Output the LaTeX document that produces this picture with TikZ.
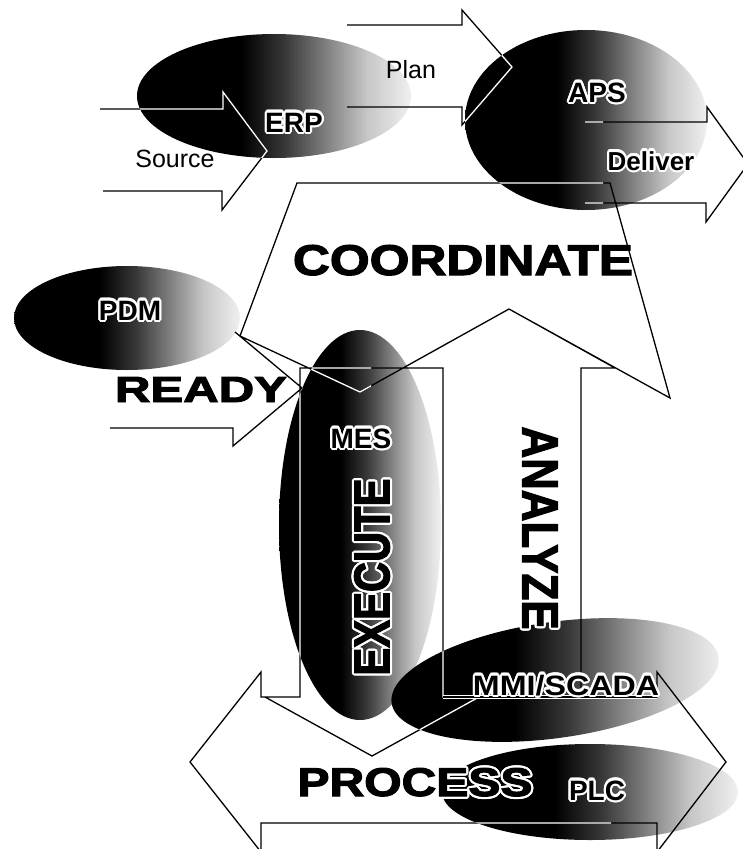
\documentclass[tikz,border=0pt]{standalone}
\usepackage{fontspec}
\usepackage{graphicx}
\setmainfont{Liberation Sans}
\newfontfamily\heavyfont[BoldFeatures={FakeBold=2.5}]{Liberation Sans}
\usetikzlibrary{calc}

% dark-to-light fill used for every oval (bounding box spans 25bp..75bp)
\pgfdeclarehorizontalshading{ovalshade}{100bp}{%
  color(0bp)=(black); color(25bp)=(black); color(44bp)=(black);
  color(52bp)=(black!78); color(60bp)=(black!48); color(67bp)=(black!22);
  color(75bp)=(black!6); color(100bp)=(black!6)}

% outlines of all block arrows
\newcommand\arrowoutlines{%
  (100,109) -- (223,109) -- (223,92) -- (267,151) -- (222,210) -- (222,191) -- (103,191)
  (347,25) -- (462,25) -- (462,10) -- (512,67) -- (462,125) -- (462,107) -- (347,107)
  (585,122) -- (707,122) -- (707,107) -- (748,164) -- (706,222) -- (706,203) -- (585,203)
  (297,183) -- (610,183) -- (670,398) -- (509,309) -- (360,392) -- (240,336) -- cycle
  (235,332) -- (302,388) -- (233,446) -- (233,428) -- (110,428)
  (300,368) -- (443,368) -- (443,697) -- (479,697) -- (372,756) -- (265,697) -- (300,697) -- cycle
  (443,368) -- (403,368) -- (509,309) -- (615,368) -- (581,368) -- (581,697)
  (300,697) -- (261,697) -- (261,672) -- (190,762) -- (261,852) -- (261,823) -- (657,823)
    -- (657,852) -- (726,762) -- (657,672) -- (657,697) -- (443,697)}

\tikzset{
  oval/.style={shading=ovalshade},
  outline/.style={line width=1.3pt, line join=miter},
  tag/.style={inner sep=0pt, anchor=base, font=\fontsize{28pt}{30pt}\selectfont\bfseries},
  plain/.style={inner sep=0pt, anchor=base, font=\fontsize{25pt}{27pt}\selectfont},
  big/.style={inner sep=0pt}
}
\newcommand\heavy[3]{\resizebox{#1}{#2}{\heavyfont\bfseries #3}}

% black label with a white outline: #1 name, #2 position, #3 node options, #4 text
\newcommand\halolabel[4]{%
  \foreach \a in {0,22.5,...,337.5}{%
    \node[#3, text=white, shift={(\a:2.2pt)}] at (#2) {#4};}
  \node[#3, text=black] (#1) at (#2) {#4};}

\begin{document}
\begin{tikzpicture}[x=1pt,y=-1pt]
\fill[white] (0,0) rectangle (743,849);
\clip (0,0) rectangle (743,849);

% ovals
\shade[oval] (274,96) ellipse [x radius=137, y radius=62];
\shade[oval] (586,120) ellipse [x radius=121, y radius=90];
\shade[oval] (127,318) ellipse [x radius=113, y radius=52];
\shade[oval] (360,525) ellipse [x radius=81, y radius=195];
\shade[oval, rotate around={8:(555,680)}] (555,680) ellipse [x radius=165, y radius=58];
\shade[oval] (590,792) ellipse [x radius=148, y radius=48];

% arrow outlines, black on white
\draw[outline] \arrowoutlines;

% the same outlines turn white where they cross the dark half of an oval
\begin{scope}
  \clip (274,96) ellipse [x radius=137, y radius=62];
  \clip (130,0) rectangle (293,200);
  \draw[outline, white] \arrowoutlines;
\end{scope}
\begin{scope}
  \clip (586,120) ellipse [x radius=121, y radius=90];
  \clip (460,20) rectangle (603,220);
  \draw[outline, white] \arrowoutlines;
\end{scope}
\begin{scope}
  \clip (360,525) ellipse [x radius=81, y radius=195];
  \clip (270,320) rectangle (371,730);
  \draw[outline, white] \arrowoutlines;
\end{scope}
\begin{scope}
  \clip[rotate around={8:(555,680)}] (555,680) ellipse [x radius=165, y radius=58];
  \clip (380,600) rectangle (571,760);
  \draw[outline, white] \arrowoutlines;
\end{scope}
\begin{scope}
  \clip (590,792) ellipse [x radius=148, y radius=48];
  \clip (430,730) rectangle (611,849);
  \draw[outline, white] \arrowoutlines;
\end{scope}

% shaft edge running under MMI/SCADA
\draw[white, line width=4pt] (443,697) -- (657,697);
\draw[outline] (443,697) -- (657,697);

% oval labels
\halolabel{erp}{294,132}{tag}{ERP}
\halolabel{aps}{597,102}{tag}{APS}
\halolabel{pdm}{130,320}{tag}{PDM}
\halolabel{mes}{361,448}{tag}{MES}
\halolabel{plc}{597,800}{tag}{PLC}
\halolabel{scada}{566,695}{tag}{\scalebox{1.15}[1]{MMI/SCADA}}

% arrow labels
\node[plain] (plan) at (411,78) {Plan};
\node[plain] (source) at (175,167) {Source};
\halolabel{deliver}{651,170}{plain, font=\fontsize{26pt}{28pt}\selectfont\bfseries}{Deliver}

\node[big, anchor=base] (coordinate) at (463,275) {\heavy{340pt}{30pt}{COORDINATE}};
\node[big, anchor=base] (ready) at (201,402) {\heavy{172pt}{25pt}{READY}};
\halolabel{process}{415,796}{big, anchor=base}{\heavy{235pt}{28pt}{PROCESS}}
\halolabel{execute}{372,577}{big, rotate=90}{\heavy{197pt}{35pt}{EXECUTE}}
\halolabel{analyze}{540,528}{big, rotate=-90}{\heavy{203pt}{35pt}{ANALYZE}}
\end{tikzpicture}
\end{document}
